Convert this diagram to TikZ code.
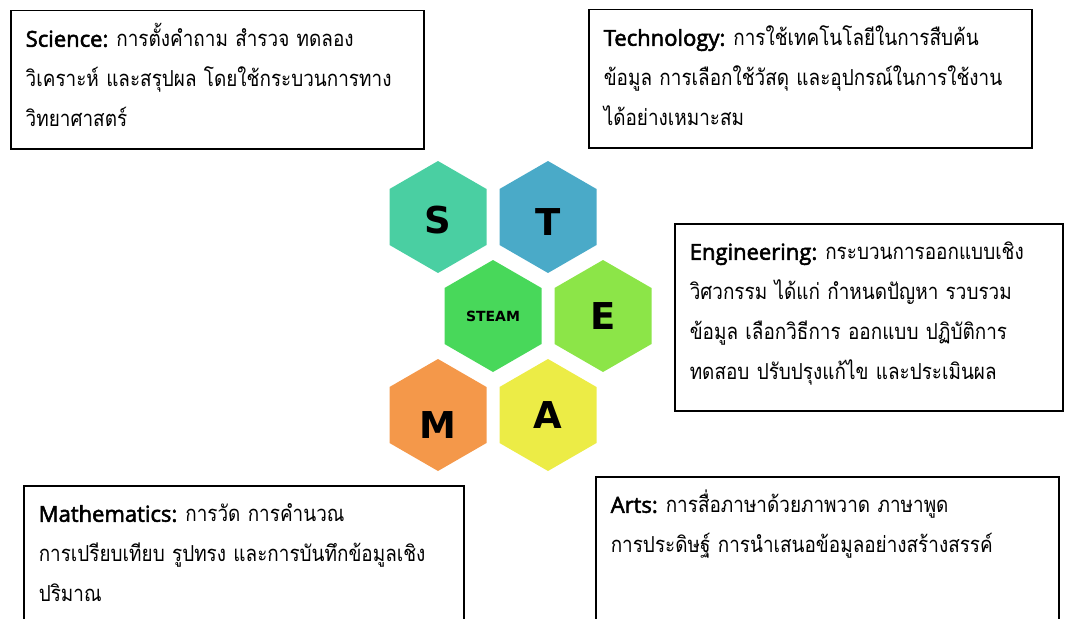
\documentclass[tikz,border=0pt]{standalone}
\usepackage{fontspec}
\newfontfamily\thaifont[Script=Thai, FakeStretch=0.86]{Loma}
\newfontfamily\headfont[FakeBold=2.5]{Open Sans}
\newfontfamily\hexfont{DejaVu Sans}
\usetikzlibrary{shapes.geometric}

\definecolor{hexS}{RGB}{74,207,162}
\definecolor{hexT}{RGB}{74,170,200}
\definecolor{hexSTEAM}{RGB}{72,216,90}
\definecolor{hexE}{RGB}{140,229,72}
\definecolor{hexM}{RGB}{244,152,74}
\definecolor{hexA}{RGB}{236,236,70}

\newcommand{\topic}[1]{{\headfont\fontsize{22}{40}\selectfont #1}\hspace{8pt}}

\tikzset{
  infobox/.style={draw, line width=1.5pt, anchor=north west, align=left,
    inner xsep=15pt, inner ysep=0pt, text height=36pt,
    font=\thaifont\fontsize{22}{40}\selectfont},
  hexa/.style={regular polygon, regular polygon sides=6,
    regular polygon rotate=30, minimum size=112pt, inner sep=0pt,
    font=\hexfont\bfseries\fontsize{37}{40}\selectfont},
}

\begin{document}
\begin{tikzpicture}[x=1pt, y=-1pt]
    \useasboundingbox (0,0) rectangle (1070,618);

    \node[hexa, fill=hexS, text height=33pt] (S) at (438,217) {S};
    \node[hexa, fill=hexT, text height=36pt] (T) at (548,217) {T};
    \node[hexa, fill=hexSTEAM, font=\hexfont\bfseries\fontsize{14}{16}\selectfont] (STEAM) at (493,316) {STEAM};
    \node[hexa, fill=hexE] (E) at (603,316) {E};
    \node[hexa, fill=hexM, text height=47pt] (M) at (438,415) {M};
    \node[hexa, fill=hexA] (A) at (548,415) {A};

    \node[infobox, text width=383pt, text depth=102pt] (science) at (10,10)
      {\topic{Science:}การตั้งคำถาม สำรวจ ทดลอง\\
       วิเคราะห์ และสรุปผล โดยใช้กระบวนการทาง\\
       วิทยาศาสตร์};
    \node[infobox, text width=413pt, text depth=102pt] (technology) at (588,9)
      {\topic{Technology:}การใช้เทคโนโลยีในการสืบค้น\\
       ข้อมูล การเลือกใช้วัสดุ และอุปกรณ์ในการใช้งาน\\
       ได้อย่างเหมาะสม};
    \node[infobox, text width=358pt, text depth=151pt] (engineering) at (674,223)
      {\topic{Engineering:}กระบวนการออกแบบเชิง\\
       วิศวกรรม ได้แก่ กำหนดปัญหา รวบรวม\\
       ข้อมูล เลือกวิธีการ ออกแบบ ปฏิบัติการ\\
       ทดสอบ ปรับปรุงแก้ไข และประเมินผล};
    \node[infobox, text width=410pt, text depth=150pt] (mathematics) at (23,485)
      {\topic{Mathematics:}การวัด การคำนวณ\\
       การเปรียบเทียบ รูปทรง และการบันทึกข้อมูลเชิง\\
       ปริมาณ};
    \node[infobox, text width=433pt, text depth=150pt] (arts) at (595,476)
      {\topic{Arts:}การสื่อภาษาด้วยภาพวาด ภาษาพูด\\
       การประดิษฐ์ การนำเสนอข้อมูลอย่างสร้างสรรค์};
\end{tikzpicture}
\end{document}
